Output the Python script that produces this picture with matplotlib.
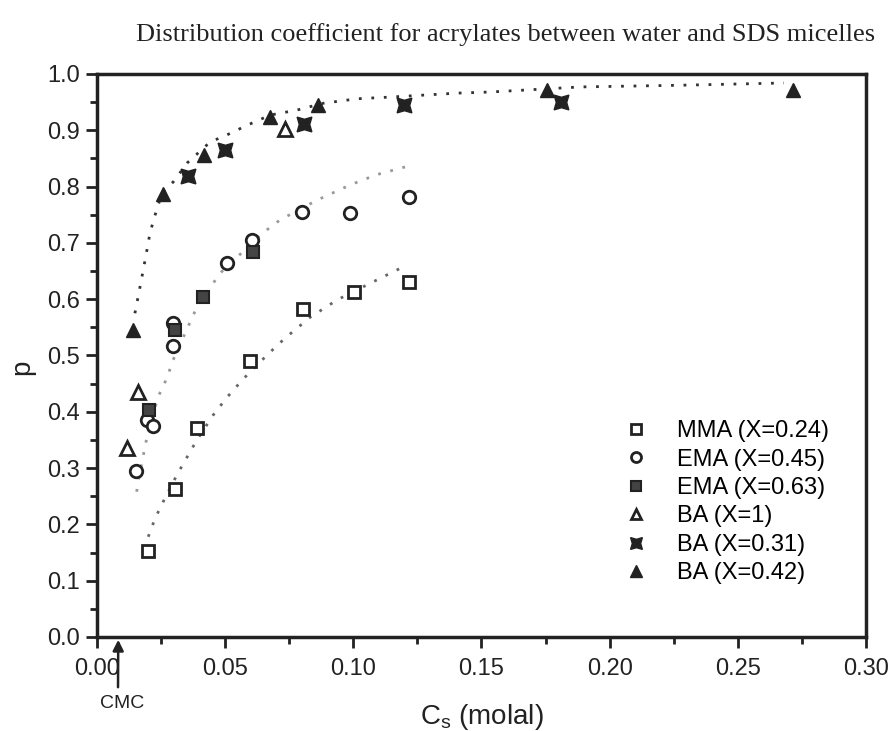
import matplotlib
matplotlib.use("Agg")
import matplotlib.pyplot as plt
from matplotlib.ticker import MultipleLocator

plt.rcParams['font.family'] = ['Liberation Sans', 'DejaVu Sans']

# measured points (Cs in molal, p)
mma_x = [0.020, 0.0305, 0.0389, 0.0598, 0.0802, 0.1001, 0.1216]
mma_y = [0.153, 0.262, 0.372, 0.491, 0.582, 0.613, 0.631]

ema45_x = [0.0152, 0.0194, 0.0220, 0.0298, 0.0298, 0.0507, 0.0604, 0.0800, 0.0986, 0.1216]
ema45_y = [0.294, 0.385, 0.374, 0.516, 0.558, 0.664, 0.705, 0.754, 0.753, 0.782]

ema63_x = [0.0204, 0.0305, 0.0413, 0.0610]
ema63_y = [0.403, 0.545, 0.604, 0.683]

ba1_x = [0.0116, 0.0161, 0.0734]
ba1_y = [0.335, 0.436, 0.903]

ba31_x = [0.0357, 0.0500, 0.0806, 0.1197, 0.1809]
ba31_y = [0.818, 0.865, 0.912, 0.945, 0.951]

ba42_x = [0.0142, 0.0257, 0.0419, 0.0676, 0.0864, 0.1757, 0.2714]
ba42_y = [0.545, 0.787, 0.856, 0.924, 0.945, 0.972, 0.972]

# dotted fit curves
fit_ba_x = [0.0148, 0.0168, 0.0188, 0.0207, 0.0227, 0.0254, 0.0297, 0.0352, 0.0441,
            0.0508, 0.0586, 0.0676, 0.0781, 0.0883, 0.1016, 0.1145, 0.1406, 0.1535,
            0.1887, 0.2277, 0.2680]
fit_ba_y = [0.575, 0.622, 0.670, 0.718, 0.750, 0.789, 0.808, 0.842, 0.879,
            0.892, 0.909, 0.927, 0.936, 0.948, 0.956, 0.959, 0.966, 0.968,
            0.977, 0.980, 0.984]

fit_ema_x = [0.0155, 0.0160, 0.0194, 0.0238, 0.0273, 0.0297, 0.0355, 0.0390, 0.0480,
             0.0645, 0.0715, 0.0859, 0.0988, 0.1090, 0.1203]
fit_ema_y = [0.258, 0.275, 0.353, 0.426, 0.460, 0.492, 0.551, 0.586, 0.646,
             0.717, 0.741, 0.776, 0.803, 0.821, 0.835]

fit_mma_x = [0.0200, 0.0227, 0.0258, 0.0312, 0.0352, 0.0390, 0.0453, 0.0508, 0.0566,
             0.0598, 0.0664, 0.0734, 0.0832, 0.0938, 0.1078, 0.1184]
fit_mma_y = [0.178, 0.211, 0.240, 0.288, 0.320, 0.350, 0.394, 0.426, 0.456,
             0.471, 0.501, 0.531, 0.568, 0.599, 0.631, 0.655]

cmc = 0.0083

ink = '#222222'

fig = plt.figure(figsize=(8.93, 7.31), dpi=100)
ax = fig.add_axes([0.1086, 0.1286, 0.8611, 0.7702])

dots = (0, (1, 3.5))
ax.plot(fit_ba_x, fit_ba_y, color='#333333', lw=2, linestyle=dots)
ax.plot(fit_ema_x, fit_ema_y, color='#999999', lw=2, linestyle=dots)
ax.plot(fit_mma_x, fit_mma_y, color='#666666', lw=2, linestyle=dots)

ax.plot(mma_x, mma_y, 's', ms=8.5, mfc='white', mec=ink, mew=2, ls='none', label='MMA (X=0.24)')
ax.plot(ema45_x, ema45_y, 'o', ms=9, mfc='white', mec=ink, mew=2, ls='none', label='EMA (X=0.45)')
ax.plot(ema63_x, ema63_y, 's', ms=8.5, mfc='#444444', mec=ink, mew=1.5, ls='none', label='EMA (X=0.63)')
ax.plot(ba1_x, ba1_y, '^', ms=9.5, mfc='white', mec=ink, mew=2, ls='none', label='BA (X=1)')
ax.plot(ba31_x, ba31_y, marker=(4, 1, 45), ms=15, mfc=ink, mec=ink, mew=1, ls='none', label='BA (X=0.31)')
ax.plot(ba42_x, ba42_y, '^', ms=10.5, mfc=ink, mec=ink, mew=1, ls='none', label='BA (X=0.42)')

ax.set_xlim(0, 0.30)
ax.set_ylim(0, 1.0)
ax.xaxis.set_major_locator(MultipleLocator(0.05))
ax.xaxis.set_minor_locator(MultipleLocator(0.025))
ax.yaxis.set_major_locator(MultipleLocator(0.1))
ax.yaxis.set_minor_locator(MultipleLocator(0.05))
ax.xaxis.set_major_formatter(plt.FuncFormatter(lambda v, p: f'{v:.2f}'))
ax.yaxis.set_major_formatter(plt.FuncFormatter(lambda v, p: f'{v:.1f}'))
ax.tick_params(which='both', direction='out', colors=ink, width=2, labelsize=17)
ax.tick_params(which='major', length=8)
ax.tick_params(which='minor', length=5)
ax.tick_params(axis='x', pad=7)
ax.tick_params(axis='y', pad=4)
for s in ax.spines.values():
    s.set_linewidth(2.5)
    s.set_color(ink)

ax.legend(loc='upper left', bbox_to_anchor=(0.700, 0.425), bbox_transform=fig.transFigure,
          frameon=False, fontsize=17, handlelength=0.9, handletextpad=1.3,
          labelspacing=0.27, borderpad=0, borderaxespad=0, markerscale=0.8)

fig.text(0.566, 0.953, 'Distribution coefficient for acrylates between water and SDS micelles',
         ha='center', va='center', fontsize=19, family='Liberation Serif', color=ink)
fig.text(22 / 893, 1 - 367 / 731, 'p', rotation=90, ha='center', va='center', fontsize=20, color=ink)
fig.text(482 / 893, 1 - 717 / 731, r'C$_\mathregular{s}$ (molal)', ha='center', va='center',
         fontsize=20, color=ink)

# CMC marker
ax.annotate('', xy=(cmc, 0), xycoords='data', xytext=(118, 731 - 690), textcoords='figure pixels',
            arrowprops=dict(arrowstyle='-|>', color=ink, lw=1.8, mutation_scale=16))
fig.text(122 / 893, 1 - 703 / 731, 'CMC', ha='center', va='center', fontsize=14, color=ink)

fig.savefig('out.png', dpi=100)
